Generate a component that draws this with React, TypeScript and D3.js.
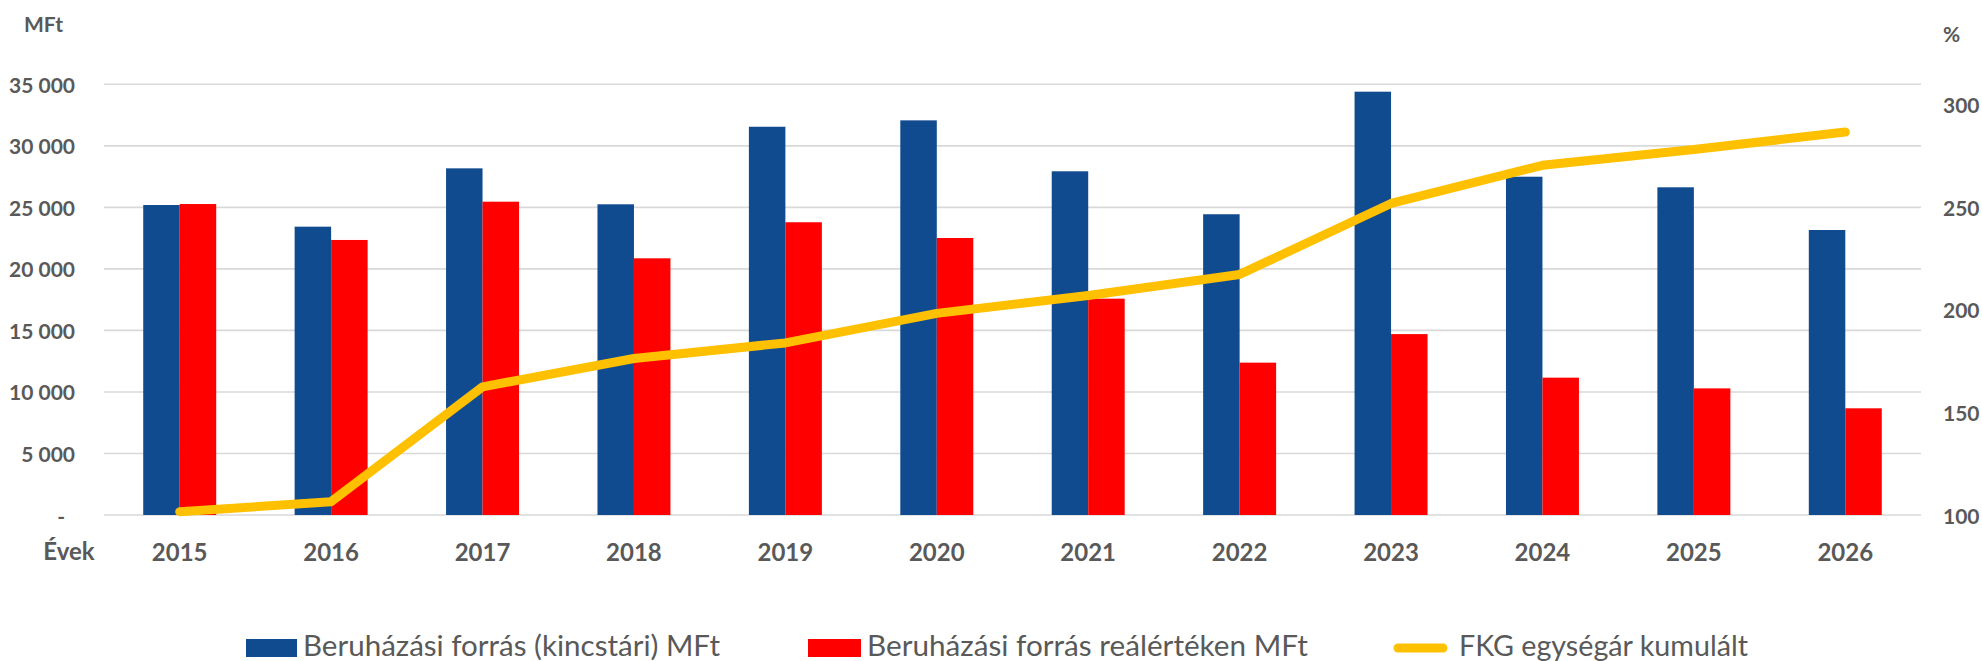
import React from "react";
import * as d3 from "d3";

const years = ["2015", "2016", "2017", "2018", "2019", "2020", "2021", "2022", "2023", "2024", "2025", "2026"];
const nominal = [25190, 23430, 28170, 25250, 31550, 32070, 27930, 24440, 34400, 27490, 26630, 23160];
const real = [25270, 22350, 25460, 20860, 23790, 22510, 17580, 12380, 14700, 11160, 10290, 8670];
const unitPrice = [101.6, 106.5, 162.5, 176.3, 183.9, 198.3, 207.0, 217.3, 251.9, 270.5, 278.2, 286.7];
const leftTicks = [0, 5000, 10000, 15000, 20000, 25000, 30000, 35000];
const rightTicks = [100, 150, 200, 250, 300];
const seriesNames = ["Beruházási forrás (kincstári) MFt", "Beruházási forrás reálértéken MFt", "FKG egységár kumulált"];

const W = 1982;
const H = 661;
const BLUE = "#114B8F";
const RED = "#FF0000";
const GOLD = "#FFC000";
const TEXT = "#595959";
const GRID = "#D9D9D9";
const FONT = "Lato, 'Open Sans', sans-serif";

const fmt = (v: number) => (v === 0 ? "-" : d3.format(",")(v).replace(/,/g, " "));

export default function App() {
  const left = 104, right = 1921, top = 84.3, bottom = 515;
  const x = d3.scaleBand<string>().domain(years).range([left, right]).paddingInner(0).paddingOuter(0);
  const yL = d3.scaleLinear().domain([0, 35000]).range([bottom, top]);
  const yR = d3.scaleLinear().domain([100, 310]).range([bottom, top]);
  const barW = x.bandwidth() * 0.241;
  const cx = (y: string) => (x(y) as number) + x.bandwidth() / 2;

  const line = d3
    .line<number>()
    .x((_, i) => cx(years[i]))
    .y((d) => yR(d));

  const legend = [
    { kind: "rect", color: BLUE, sx: 246, sw: 51, tx: 303, tl: 417 },
    { kind: "rect", color: RED, sx: 808, sw: 53, tx: 867, tl: 441 },
    { kind: "line", color: GOLD, sx: 1394, sw: 53, tx: 1459, tl: 289 },
  ];

  return (
    <div style={{ position: "absolute", left: 0, top: 0, width: W, height: H, overflow: "hidden" }}>
      <svg width={W} height={H} style={{ display: "block", fontFamily: FONT }}>
        <rect width={W} height={H} fill="#fff" />
        {leftTicks.map((t) => (
          <line key={"g" + t} x1={left} x2={right} y1={yL(t)} y2={yL(t)} stroke={GRID} strokeWidth={1.6} />
        ))}
        {leftTicks.map((t) => (
          <text
            key={"lt" + t}
            x={t === 0 ? 65 : 75}
            y={yL(t)}
            textAnchor="end"
            dominantBaseline="central"
            fontSize={21}
            fontWeight={700}
            fill={TEXT}
          >
            {fmt(t)}
          </text>
        ))}
        {rightTicks.map((t) => (
          <text
            key={"rt" + t}
            x={1943}
            y={yR(t)}
            textAnchor="start"
            dominantBaseline="central"
            fontSize={21}
            fontWeight={700}
            fill={TEXT}
          >
            {t}
          </text>
        ))}
        <text x={24} y={23} dominantBaseline="central" fontSize={21} fontWeight={700} fill={TEXT}>
          MFt
        </text>
        <text x={1943} y={33} dominantBaseline="central" fontSize={21} fontWeight={700} fill={TEXT}>
          %
        </text>
        {years.map((yr, i) => (
          <g key={"b" + yr}>
            <rect x={cx(yr) - barW} y={yL(nominal[i])} width={barW} height={bottom - yL(nominal[i])} fill={BLUE} />
            <rect x={cx(yr)} y={yL(real[i])} width={barW} height={bottom - yL(real[i])} fill={RED} />
          </g>
        ))}
        <path
          d={line(unitPrice) || ""}
          fill="none"
          stroke={GOLD}
          strokeWidth={9}
          strokeLinejoin="round"
          strokeLinecap="round"
        />
        {years.map((yr) => (
          <text
            key={"x" + yr}
            x={cx(yr)}
            y={551}
            textAnchor="middle"
            dominantBaseline="central"
            fontSize={24}
            fontWeight={700}
            fill={TEXT}
          >
            {yr}
          </text>
        ))}
        <text x={69} y={550} textAnchor="middle" dominantBaseline="central" fontSize={24} fontWeight={700} fill={TEXT}>
          Évek
        </text>
        {legend.map((l, i) => (
          <g key={"lg" + i}>
            {l.kind === "rect" ? (
              <rect x={l.sx} y={639} width={l.sw} height={18} fill={l.color} />
            ) : (
              <line x1={l.sx + 4} x2={l.sx + l.sw - 4} y1={648} y2={648} stroke={l.color} strokeWidth={9} strokeLinecap="round" />
            )}
            <text x={l.tx} y={656} fontSize={28} fill={TEXT} textLength={l.tl} lengthAdjust="spacingAndGlyphs">
              {seriesNames[i]}
            </text>
          </g>
        ))}
      </svg>
    </div>
  );
}
